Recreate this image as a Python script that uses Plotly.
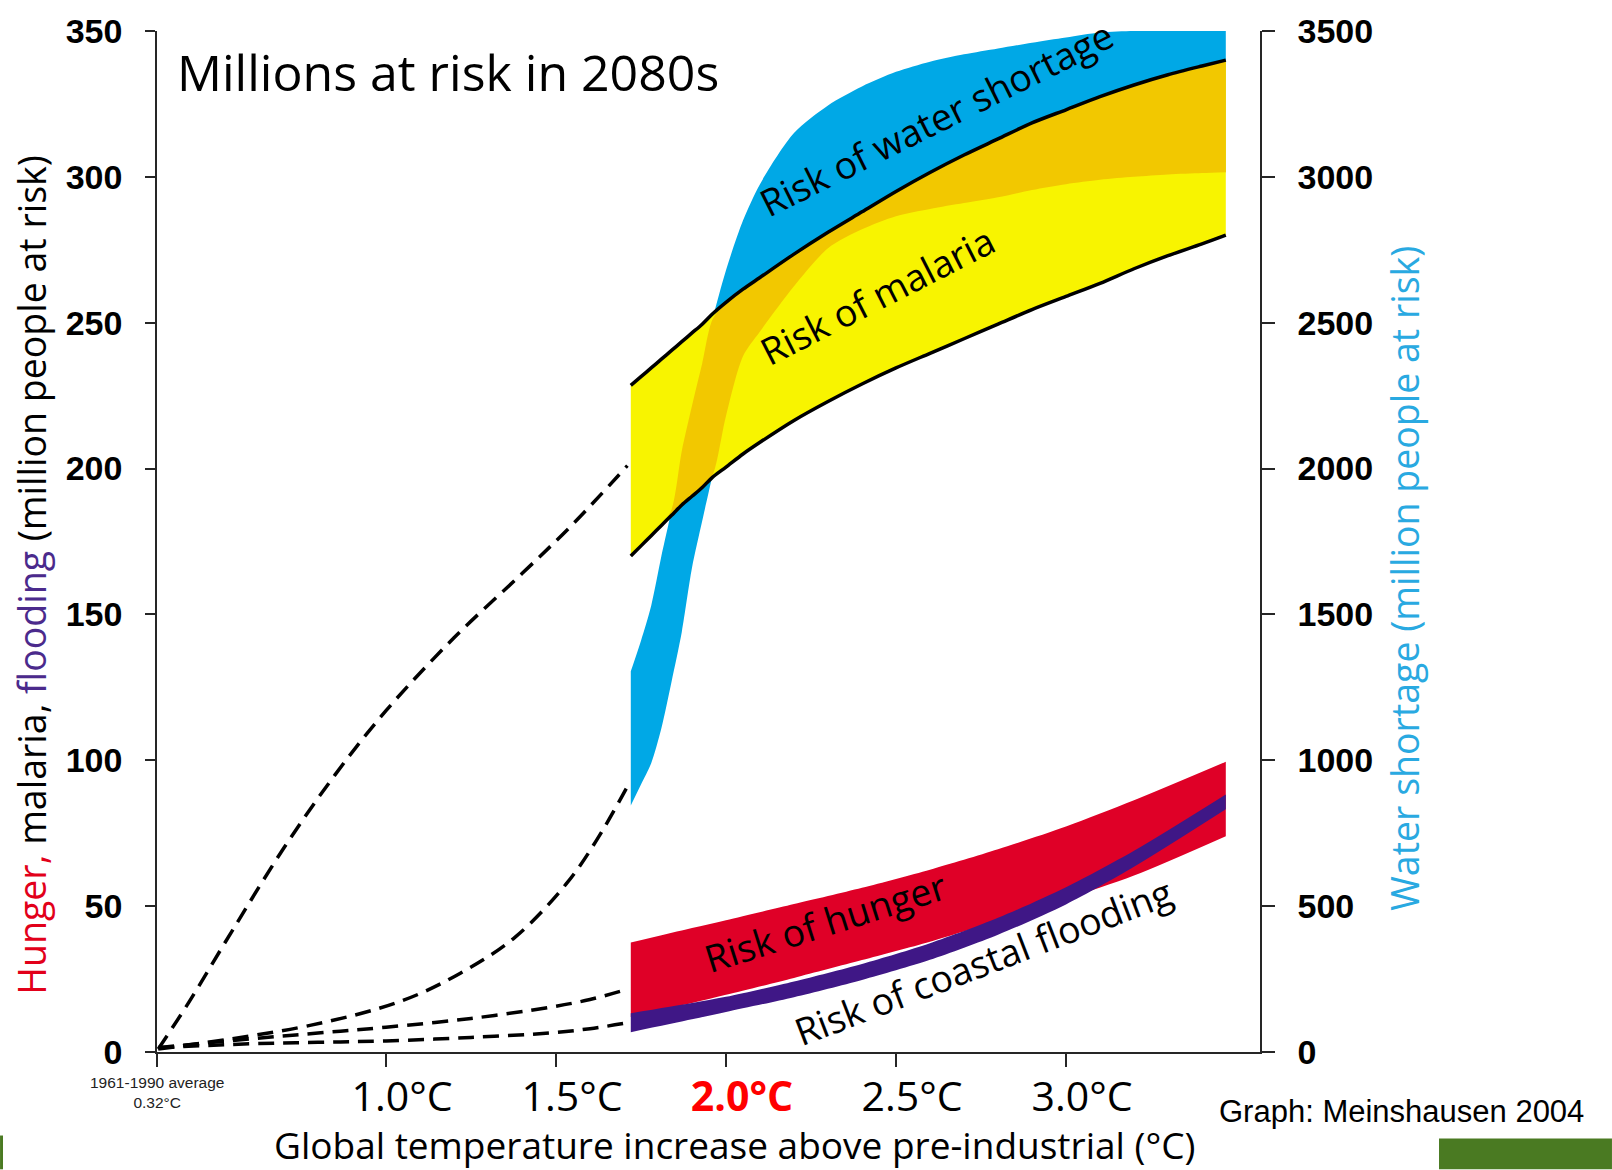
import numpy as np
import plotly.graph_objects as go

# ---------------- data ----------------
# common temperature grid for the malaria / water-shortage ranges (deg C above pre-industrial)
band_temps = [1.72, 1.75, 1.78, 1.81, 1.84, 1.87, 1.90, 1.93, 1.96, 2.00, 2.05, 2.10, 2.20,
              2.30, 2.40, 2.50, 2.60, 2.70, 2.80, 2.90, 3.00, 3.10, 3.20, 3.30, 3.40, 3.47]
# water shortage, million people (right axis)
water_low = [845, 917, 990, 1110, 1270, 1440, 1660, 1820, 1975, 2180, 2385, 2470, 2625,
             2755, 2820, 2865, 2890, 2910, 2930, 2955, 2975, 2990, 3000, 3008, 3013, 3016]
water_high = [1305, 1410, 1530, 1700, 1860, 2060, 2215, 2360, 2510, 2680, 2850, 2975, 3150,
              3245, 3310, 3360, 3395, 3420, 3440, 3460, 3478, 3495, 3500, 3500, 3500, 3500]
# malaria, million people (left axis)
malaria_low = [170, 173.5, 177, 180.5, 184, 187.5, 190.5, 193.5, 197, 200.5, 205, 209, 216.5,
               223, 229, 234.5, 239.5, 244.5, 249.5, 254.5, 259, 263.5, 268.5, 273, 277, 280]
malaria_high = [228.5, 231.5, 234.5, 237.5, 240.5, 243.5, 246.5, 249.5, 253, 257, 261.5, 265.5, 273.5,
                281, 288, 295, 301.5, 307.5, 313, 318.5, 323, 327.5, 331.5, 335, 338, 340]

# hunger and coastal flooding ranges (left axis)
low_temps = [1.72, 1.90, 2.00, 2.20, 2.40, 2.60, 2.80, 3.00, 3.20, 3.47]
hunger_low = [12, 16.8, 19.6, 25.4, 31.5, 37.8, 45, 52.5, 60.5, 74]
hunger_high = [37.5, 42.5, 45.2, 50.7, 56.3, 62.5, 69.5, 77.3, 86.3, 99.5]
flood_low = [6.8, 11.2, 13.7, 18.8, 24.7, 31.6, 40.2, 50.6, 63.5, 83.2]
flood_high = [13.3, 16.8, 18.9, 24.2, 30.2, 37.3, 46, 56.5, 69, 88.3]

# dashed central estimates below 1.7 deg C
malaria_dash_temps = [0.33, 0.42, 0.55, 0.70, 0.85, 1.00, 1.20, 1.40, 1.55, 1.71]
malaria_dash = [1, 17, 42, 70, 95, 117, 142, 164, 181, 201]
water_dash_temps = [0.33, 0.78, 1.05, 1.22, 1.38, 1.53, 1.62, 1.71]
water_dash = [10, 92, 177, 271, 394, 576, 727, 910]
low_dash_temps = [0.33, 0.60, 0.80, 1.00, 1.25, 1.48, 1.60, 1.71]
hunger_dash = [1.5, 4.5, 6.5, 8.5, 11.5, 15.3, 18, 21.5]
flood_dash = [1.5, 2.8, 3.3, 3.8, 5.0, 6.5, 8.0, 10]

# axes
x_range = [0.3265, 3.5706]
x_tick_vals = [1.0, 1.5, 2.0, 2.5, 3.0]
x_tick_text = ["1.0°C", "1.5°C", "<span style='color:#ff0000'><b>2.0°C</b></span>", "2.5°C", "3.0°C"]
top_tick_vals = [0.57, 0.82, 1.07, 1.32, 1.57, 1.82, 2.07, 2.32, 2.57, 2.82, 3.07, 3.32, 3.5706]
left_ticks = [0, 50, 100, 150, 200, 250, 300, 350]
right_ticks = [0, 500, 1000, 1500, 2000, 2500, 3000, 3500]
left_range = [0, 350]
right_range = [0, 3500]

# ---------------- style ----------------
BLUE = "#00a8e6"
YELLOW = "#f8f400"
ORANGE = "#f2c800"
RED = "#df0027"
PURPLE = "#3f1786"
AXC = "#262626"
SANS = "Open Sans"
DASH = dict(color="black", width=3.5, dash="16px,9px")
SMOOTH = dict(shape="spline", smoothing=0.8)

fig = go.Figure()


def add_band(xs, lo, hi, color, yaxis):
    """Filled range between two smoothed edges."""
    fig.add_trace(go.Scatter(x=xs, y=lo, mode="lines", line=dict(width=0, **SMOOTH),
                             xaxis="x", yaxis=yaxis, hoverinfo="skip"))
    fig.add_trace(go.Scatter(x=xs, y=hi, mode="lines", line=dict(width=0, **SMOOTH),
                             fill="tonexty", fillcolor=color, xaxis="x", yaxis=yaxis,
                             hoverinfo="skip"))


# water shortage band on the base (right) axis
add_band(band_temps, water_low, water_high, BLUE, "y")
fig.add_trace(go.Scatter(x=water_dash_temps, y=water_dash, mode="lines",
                         line=dict(**DASH, shape="spline"), xaxis="x", yaxis="y"))

# malaria band (left axis)
add_band(band_temps, malaria_low, malaria_high, YELLOW, "y2")

# overlap of water-shortage and malaria ranges (orange)
scale = right_range[1] / left_range[1]
wl = np.array(water_low) / scale
wh = np.array(water_high) / scale
ov_lo = np.maximum(wl, np.array(malaria_low))
ov_hi = np.maximum(np.minimum(wh, np.array(malaria_high)), ov_lo)
add_band(band_temps, ov_lo, ov_hi, ORANGE, "y2")

for arr in (malaria_high, malaria_low):
    fig.add_trace(go.Scatter(x=band_temps, y=arr, mode="lines",
                             line=dict(color="black", width=3.5, **SMOOTH), xaxis="x", yaxis="y2"))

# hunger and flooding
add_band(low_temps, hunger_low, hunger_high, RED, "y2")
add_band(low_temps, flood_low, flood_high, PURPLE, "y2")

for xs, ys in ((malaria_dash_temps, malaria_dash), (low_dash_temps, hunger_dash),
               (low_dash_temps, flood_dash)):
    fig.add_trace(go.Scatter(x=xs, y=ys, mode="lines", line=dict(**DASH, shape="spline"),
                             xaxis="x", yaxis="y2"))

common = dict(showgrid=False, zeroline=False, tickcolor=AXC, tickwidth=1.5)
yfont = dict(family="Liberation Sans", size=34, color="black", weight="bold")

fig.update_layout(
    width=1612, height=1170,
    margin=dict(l=157, r=352, t=25, b=118, pad=0),
    plot_bgcolor="white", paper_bgcolor="white",
    showlegend=False,
    xaxis=dict(range=x_range, tickvals=[x_range[0]] + x_tick_vals, ticktext=[""] + x_tick_text,
               ticks="outside", ticklen=13, showline=True, linecolor=AXC, linewidth=1.5,
               tickfont=dict(family=SANS, size=41, color="black"), ticklabelshift=16,
               ticklabelstandoff=-5, **common),
    xaxis2=dict(overlaying="x", anchor="y", side="bottom", range=x_range,
                tickvals=[x_range[0]] + x_tick_vals, ticks="inside", ticklen=10,
                showticklabels=False, showline=False, **common),
    xaxis3=dict(overlaying="x", anchor="y", side="top", range=x_range, tickvals=top_tick_vals,
                ticks="inside", ticklen=10, showticklabels=False, showline=True,
                linecolor=AXC, linewidth=1.5, **common),
    xaxis4=dict(overlaying="x", anchor="y", side="top", range=x_range, tickvals=top_tick_vals,
                ticks="outside", ticklen=7, showticklabels=False, showline=False, **common),
    yaxis=dict(side="right", anchor="x", range=right_range, tickvals=right_ticks, ticks="outside",
               ticklen=13, showline=True, linecolor=AXC, linewidth=1.5, tickfont=yfont,
               ticklabelstandoff=16, **common),
    yaxis2=dict(overlaying="y", side="left", anchor="x", range=left_range, tickvals=left_ticks,
                ticks="outside", ticklen=10, showline=True, linecolor=AXC, linewidth=1.5,
                tickfont=yfont, ticklabelstandoff=16, **common),
    yaxis3=dict(overlaying="y", side="left", anchor="x", range=left_range, tickvals=left_ticks,
                ticks="inside", ticklen=10, showticklabels=False, showline=False, **common),
    yaxis4=dict(overlaying="y", side="right", anchor="x", range=right_range, tickvals=right_ticks,
                ticks="inside", ticklen=13, showticklabels=False, showline=False, **common),
)

ann = []
ann.append(dict(text="Millions at risk in 2080s", xref="paper", yref="paper", x=0.0163, y=0.96,
                xanchor="left", yanchor="middle", showarrow=False,
                font=dict(family=SANS, size=50, color="black")))
ann.append(dict(text="<span style='color:#e2001a'>Hunger,</span> malaria, "
                     "<span style='color:#4b2a8c'>flooding</span> (million people at risk)",
                xref="paper", yref="paper", x=-0.1134, y=0.4674, textangle=-90,
                xanchor="center", yanchor="middle", showarrow=False,
                font=dict(family=SANS, size=37.5, color="black")))
ann.append(dict(text="Water shortage (million people at risk)", xref="paper", yref="paper",
                x=1.1315, y=0.4635, textangle=-90, xanchor="center", yanchor="middle",
                showarrow=False, font=dict(family=SANS, size=37.5, color="#29a9e1")))
ann.append(dict(text="Global temperature increase above pre-industrial (°C)", xref="paper",
                yref="paper", x=0.524, y=-0.0905, xanchor="center", yanchor="middle",
                showarrow=False, font=dict(family=SANS, size=37, color="black")))
ann.append(dict(text="1961-1990 average<br>0.32°C", xref="x", yref="paper", x=x_range[0],
                y=-0.0399, xanchor="center", yanchor="middle", showarrow=False,
                font=dict(family="Liberation Sans", size=15.5, color="#222")))
ann.append(dict(text="Graph: Meinshausen 2004", xref="paper", yref="paper", x=0.961, y=-0.0584,
                xanchor="left", yanchor="middle", showarrow=False,
                font=dict(family="Liberation Sans", size=31, color="black")))
# band labels
for txt, tx, ty, ang in (("Risk of water shortage", 2.618, 320, -26.5),
                         ("Risk of malaria", 2.444, 259.4, -27),
                         ("Risk of hunger", 2.294, 44.6, -17.5),
                         ("Risk of coastal flooding", 2.755, 31, -21)):
    ann.append(dict(text=txt, xref="x", yref="y2", x=tx, y=ty, textangle=ang, showarrow=False,
                    xanchor="center", yanchor="middle",
                    font=dict(family=SANS, size=37.5, color="black")))
fig.update_layout(annotations=ann)

# slide decoration (green bars)
fig.add_shape(type="rect", xref="paper", yref="paper", x0=1.1623, x1=1.3191, y0=-0.1149, y1=-0.0847,
              fillcolor="#4a7a22", line=dict(width=0), layer="above")
fig.add_shape(type="rect", xref="paper", yref="paper", x0=-0.1423, x1=-0.1396, y0=-0.1149, y1=-0.0818,
              fillcolor="#4a7a22", line=dict(width=0), layer="above")

fig.write_html("out.html", config={"displayModeBar": False},
               post_script="document.body.style.margin='0';")
